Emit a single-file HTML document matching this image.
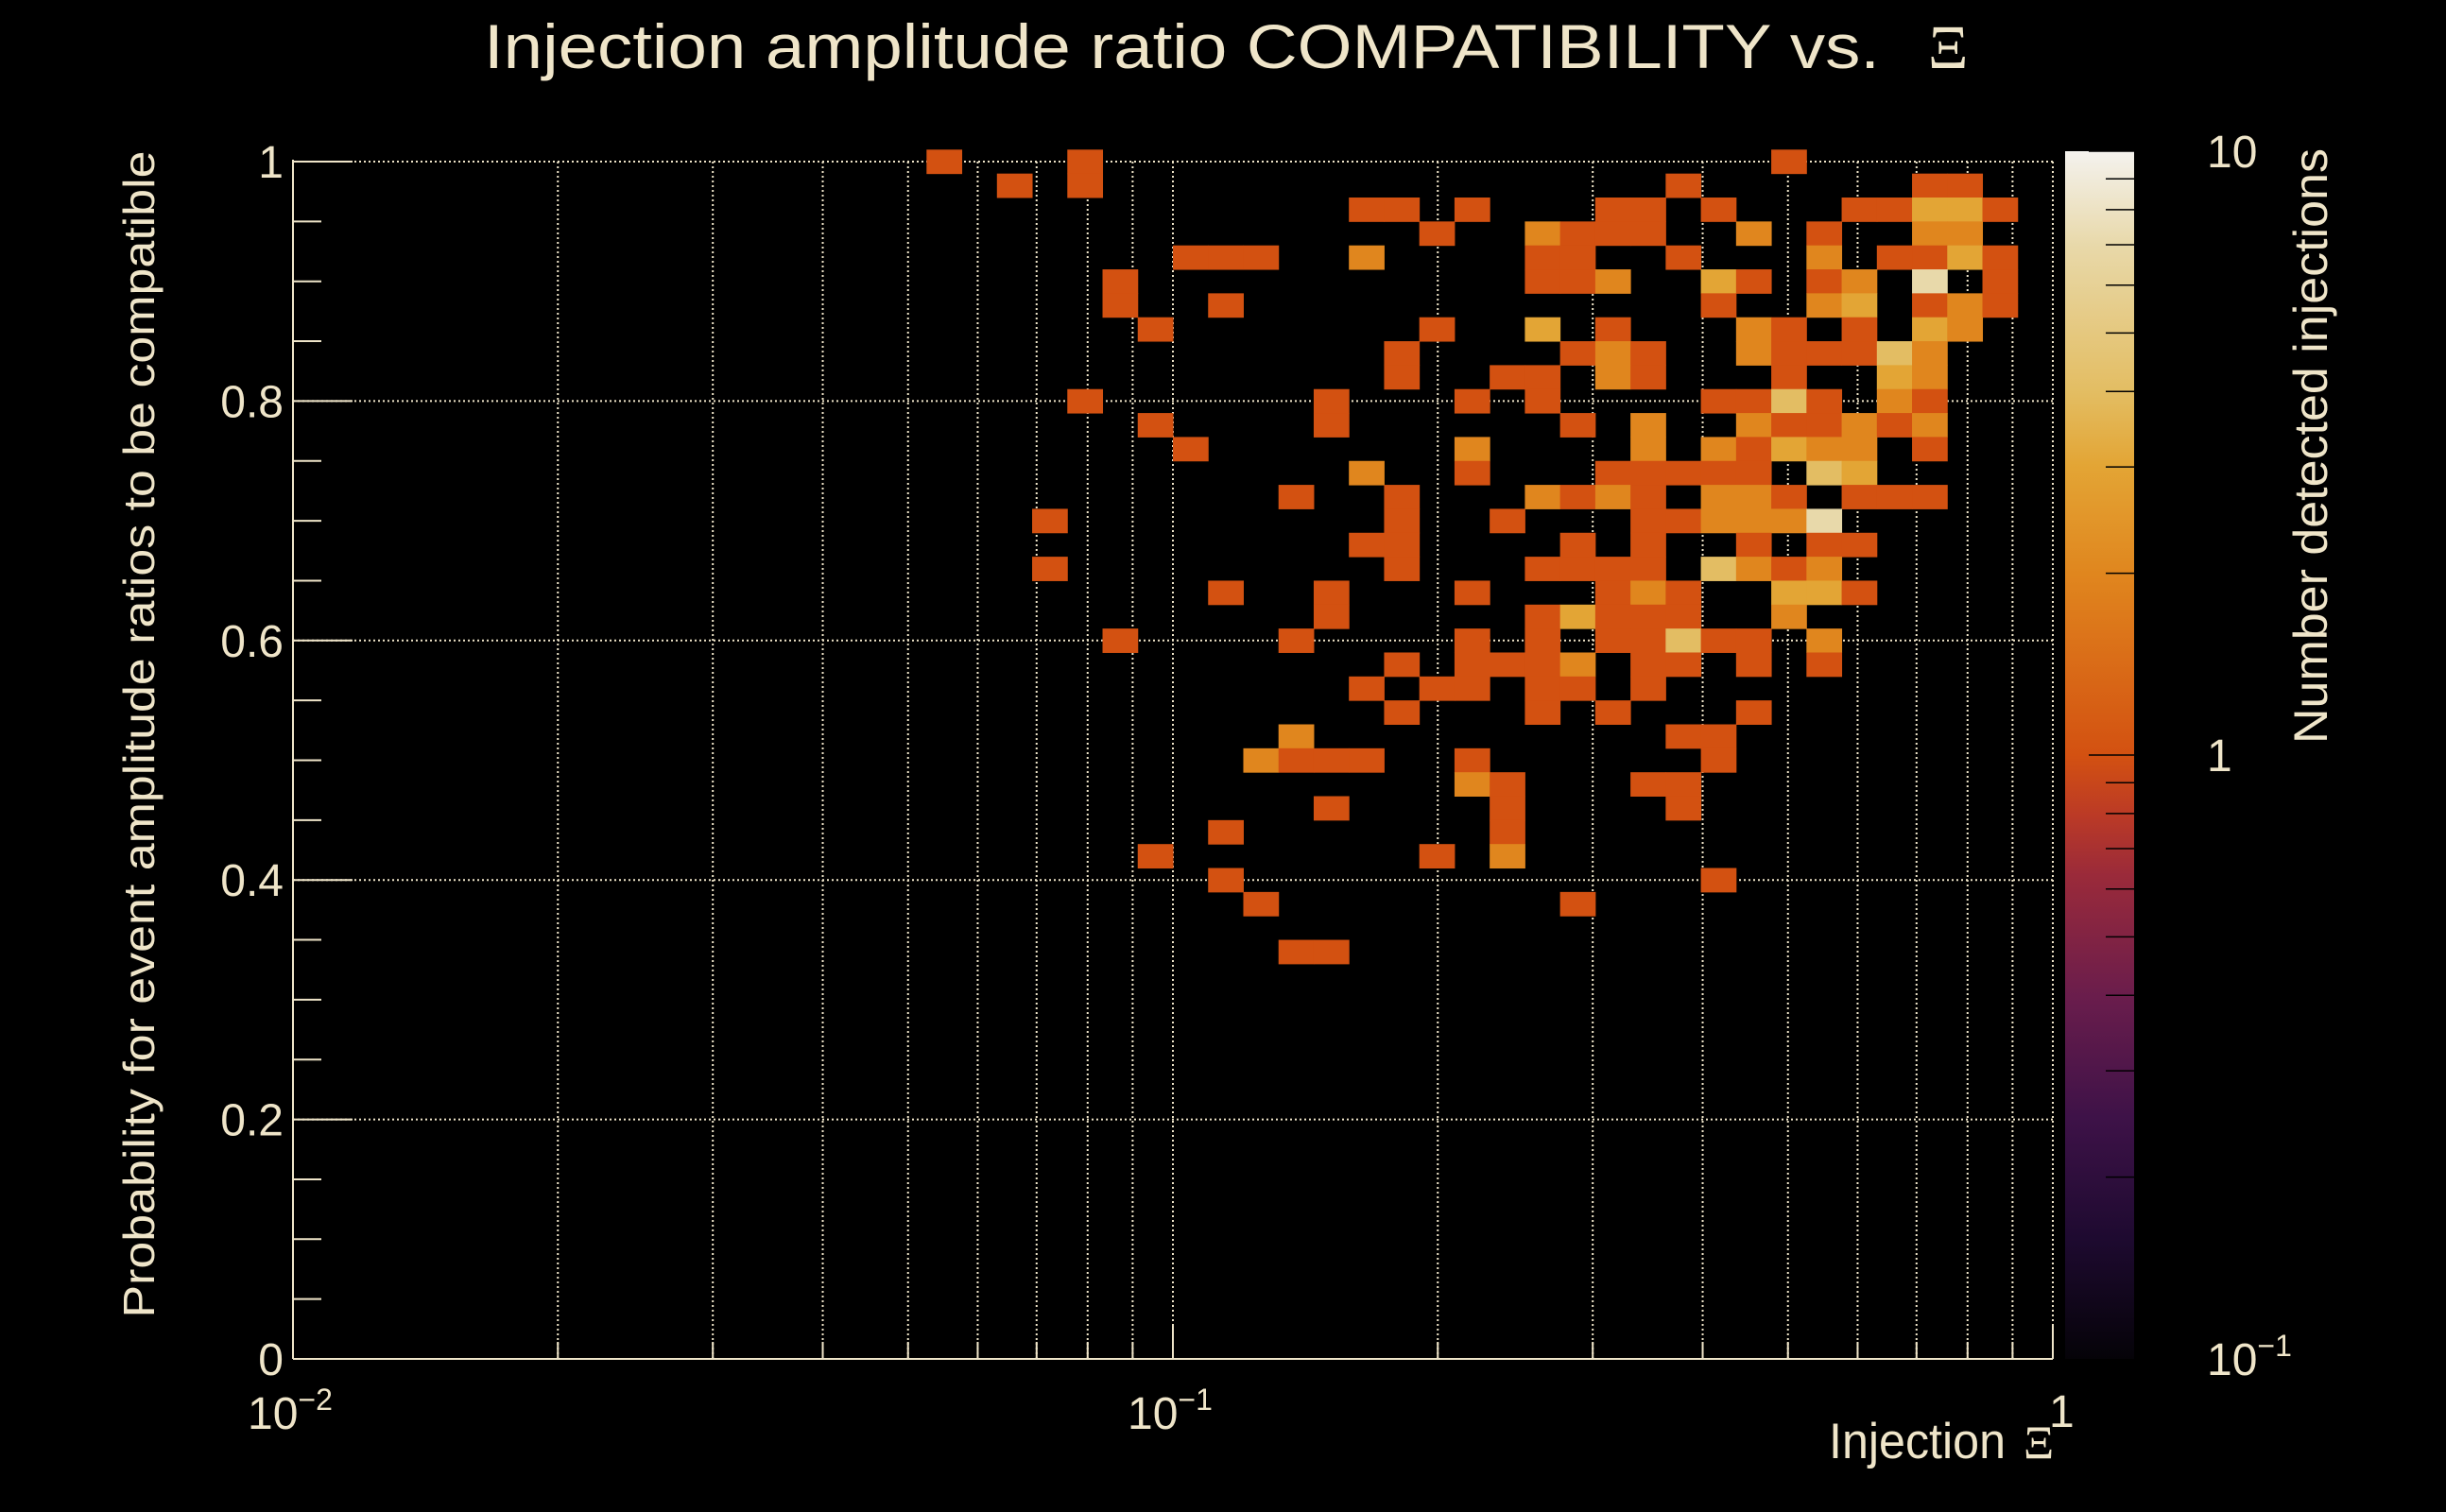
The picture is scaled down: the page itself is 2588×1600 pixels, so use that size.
<!DOCTYPE html>
<html><head><meta charset="utf-8"><style>
html,body{margin:0;padding:0;background:#000;}
svg{display:block;}
text{fill:#efe5c9;font-family:"Liberation Sans",sans-serif;}
.serif{font-family:"Liberation Serif",serif;}
</style></head><body>
<svg id="chart" xmlns="http://www.w3.org/2000/svg" width="2588" height="1600" viewBox="0 0 2588 1600">
<defs>
<linearGradient id="cbgrad" x1="0" y1="1" x2="0" y2="0">
<stop offset="0" stop-color="#050308"/><stop offset="0.1" stop-color="#1e0a30"/>
<stop offset="0.2" stop-color="#3e1248"/><stop offset="0.3" stop-color="#6a1d4c"/>
<stop offset="0.4" stop-color="#9a2a3a"/><stop offset="0.45" stop-color="#bb3a26"/>
<stop offset="0.5" stop-color="#d35111"/><stop offset="0.65" stop-color="#e0861e"/>
<stop offset="0.74" stop-color="#e3a535"/><stop offset="0.8" stop-color="#e3bd62"/>
<stop offset="0.92" stop-color="#e8d8a8"/><stop offset="1" stop-color="#f4f2ee"/>
</linearGradient>
</defs>
<rect x="0" y="0" width="2588" height="1600" fill="#000"/>
<g id="grid"></g>
<g id="cells"></g>
<g id="axes"></g>
<text x="512" y="72" font-size="66" textLength="1477" lengthAdjust="spacingAndGlyphs">Injection amplitude ratio COMPATIBILITY vs.</text>
<text class="serif" x="2040" y="72" font-size="66">Ξ</text>
<text transform="translate(163,777) rotate(-90)" text-anchor="middle" font-size="46" textLength="1235" lengthAdjust="spacingAndGlyphs">Probability for event amplitude ratios to be compatible</text>
<text x="1935" y="1543" font-size="53" textLength="187" lengthAdjust="spacingAndGlyphs">Injection</text>
<text class="serif" x="2141" y="1543" font-size="50">Ξ</text>
<text transform="translate(2462,472) rotate(-90)" text-anchor="middle" font-size="50" textLength="630" lengthAdjust="spacingAndGlyphs">Number detected injections</text>
<rect x="2185" y="160" width="73" height="1278" fill="url(#cbgrad)"/>
<g id="cbaxis"></g>
</svg>
<script>
// ---- data ----
const rowProbs = [1.00,0.98,0.96,0.94,0.92,0.90,0.88,0.86,0.84,0.82,0.80,0.78,0.76,0.74,0.72,0.70,0.68,0.66,0.64,0.62,0.60,0.58,0.56,0.54,0.52,0.50,0.48,0.46,0.44,0.42,0.40,0.38,0.34];
const rowBins = [
[18,22,42],
[20,22,39,46,47],
[30,31,33,37,38,40,44,45,46,47,48],
[32,35,36,37,38,41,43,46,47],
[25,26,27,30,35,36,39,43,45,46,47,48],
[23,35,36,37,40,41,43,44,46,48],
[23,26,40,43,44,46,47,48],
[24,32,35,37,41,42,44,46,47],
[31,36,37,38,41,42,43,44,45,46],
[31,34,35,37,38,42,45,46],
[22,29,33,35,40,41,42,43,45,46],
[24,29,36,38,41,42,43,44,45,46],
[25,33,38,40,41,42,43,44,46],
[30,33,37,38,39,40,41,43,44],
[28,31,35,36,37,38,40,41,42,44,45,46],
[21,31,34,38,39,40,41,42,43],
[30,31,36,38,41,43,44],
[21,31,35,36,37,38,40,41,42,43],
[26,29,33,37,38,39,42,43,44],
[29,35,36,37,38,39,42],
[23,28,33,35,37,38,39,40,41,43],
[31,33,34,35,36,38,39,41,43],
[30,32,33,35,36,38],
[31,35,37,41],
[28,39,40],
[27,28,29,30,33,40],
[33,34,38,39],
[29,34,39],
[26,34],
[24,32,34],
[26,40],
[27,36],
[28,29]
];
const rowCounts = [
[1,1,1],
[1,1,1,1,1],
[1,1,1,1,1,1,1,1,3,3,1],
[1,2,1,1,1,2,1,2,2],
[1,1,1,2,1,1,1,2,1,1,3,1],
[1,1,1,2,3,1,1,2,7,1],
[1,1,1,2,3,1,2,1],
[1,1,3,1,2,1,1,3,2],
[1,1,2,1,2,1,1,1,4,2],
[1,1,1,2,1,1,3,2],
[1,1,1,1,1,1,4,1,2,1],
[1,1,1,2,2,1,1,2,1,2],
[1,2,2,2,1,3,2,2,1],
[2,1,1,1,1,1,1,4,3],
[1,1,2,1,2,1,2,2,1,1,1,1],
[1,1,1,1,1,2,2,2,7],
[1,1,1,1,1,1,1],
[1,1,1,1,1,1,4,2,1,2],
[1,1,1,1,2,1,3,3,1],
[1,1,3,1,1,1,2],
[1,1,1,1,1,1,4,1,1,2],
[1,1,1,1,2,1,1,1,1],
[1,1,1,1,1,1],
[1,1,1,1],
[2,1,1],
[2,1,1,1,1,1],
[2,1,1,1],
[1,1,1],
[1,1],
[1,1,2],
[1,1],
[1,1],
[1,1]
];
const yTickVals = [0,0.2,0.4,0.6,0.8,1];
const yTickLabels = ["0","0.2","0.4","0.6","0.8","1"];
const xDecades = [-2,-1,0];
const cbDecades = [-1,0,1];

// ---- axes ----
const NS="http://www.w3.org/2000/svg";
const X0=310,X1=2172,Y0=1438,Y1=171;
const BIN_DEC=0.04, LOGMIN=-2, LOGMAX=0;
function xScale(v){return X0+(Math.log10(v)-LOGMIN)/(LOGMAX-LOGMIN)*(X1-X0);}
function binLo(b){return Math.pow(10,LOGMIN+b*BIN_DEC);}
function binHi(b){return Math.pow(10,LOGMIN+(b+1)*BIN_DEC);}
function yScale(p){return Y0-p*(Y0-Y1);}
const CB_TOP=160,CB_BOT=1438;
function cbScale(c){return CB_BOT-(Math.log10(c)+1)/2*(CB_BOT-CB_TOP);}
const stops=[[0,[5,3,8]],[0.1,[30,10,48]],[0.2,[62,18,72]],[0.3,[106,29,76]],[0.4,[154,42,58]],[0.45,[187,58,38]],[0.5,[211,81,17]],[0.65,[224,134,30]],[0.74,[227,165,53]],[0.8,[227,189,98]],[0.92,[232,216,168]],[1,[244,242,238]]];
function colorOf(c){
  let t=(Math.log10(c)+1)/2; t=Math.max(0,Math.min(1,t));
  for(let i=1;i<stops.length;i++){ if(t<=stops[i][0]){const a=stops[i-1],b=stops[i];const f=(t-a[0])/(b[0]-a[0]);
    return 'rgb('+a[1].map((v,k)=>Math.round(v+(b[1][k]-v)*f)).join(',')+')';}}
  return 'rgb(244,242,238)';
}
function mk(tag,attrs,parent){const e=document.createElementNS(NS,tag);for(const k in attrs)e.setAttribute(k,attrs[k]);parent.appendChild(e);return e;}
const gGrid=document.getElementById('grid'),gCells=document.getElementById('cells'),gAx=document.getElementById('axes'),gCb=document.getElementById('cbaxis');
const cream='#efe5c9';

// grid
yTickVals.forEach(v=>{ if(v===0)return; const y=yScale(v);
  const l=mk('line',{x1:X0,x2:X1,y1:y,y2:y,stroke:cream,'stroke-width':2,'stroke-dasharray':'2 3'},gGrid);
  
  
});
xDecades.forEach(d=>{ for(let m=1;m<=9;m++){ const v=m*Math.pow(10,d); if(Math.log10(v)>LOGMAX+1e-9)break; if(d===-2&&m===1)continue;
  const x=xScale(v);
  const l=mk('line',{x1:x,x2:x,y1:Y1,y2:Y0,stroke:cream,'stroke-width':2,'stroke-dasharray':'2 3'},gGrid);
  
  
}});

// cells
rowProbs.forEach((p,ri)=>{ rowBins[ri].forEach((b,ci)=>{
  const xa=xScale(binLo(b)),xb=xScale(binHi(b)),ya=yScale(p+0.01),yb=yScale(p-0.01);
  const r=mk('rect',{x:xa,y:ya,width:xb-xa+0.5,height:yb-ya+0.5,fill:colorOf(rowCounts[ri][ci])},gCells);
  
  
});});

// axes lines
const ax1=mk('line',{x1:X0,x2:X0,y1:Y1-2,y2:Y0,stroke:cream,'stroke-width':2},gAx);


const ax2=mk('line',{x1:X0,x2:X1,y1:Y0,y2:Y0,stroke:cream,'stroke-width':2},gAx);


// y ticks
for(let i=0;i<=20;i++){ const v=i*0.05; const y=yScale(v); const major=(i%4===0);
  const t=mk('line',{x1:X0,x2:X0+(major?63:30),y1:y,y2:y,stroke:cream,'stroke-width':2},gAx);
  
  
}
yTickVals.forEach((v,i)=>{ const t=mk('text',{x:300,y:yScale(v)+17,'text-anchor':'end','font-size':48},gAx); t.textContent=yTickLabels[i];
  
  
});
// x ticks
xDecades.forEach(d=>{ for(let m=1;m<=9;m++){ const v=m*Math.pow(10,d); if(Math.log10(v)>LOGMAX+1e-9)break;
  const x=xScale(v); const major=(m===1);
  const t=mk('line',{x1:x,x2:x,y1:Y0,y2:Y0-(major?36:18),stroke:cream,'stroke-width':2},gAx);
  
  
}});
xDecades.forEach(d=>{ const x=xScale(Math.pow(10,d));
  const t=mk('text',{x:d===0?x-4:x-48,y:d===0?1510:1512,'font-size':48},gAx);
  
  
  if(d===0){t.textContent='1';}
  else{ t.textContent='10'; const s=mk('tspan',{dy:-20,'font-size':32},t); s.textContent='\u2212'+(-d); }
});
// colorbar ticks & labels
cbDecades.forEach(d=>{ for(let m=1;m<=9;m++){ const v=m*Math.pow(10,d); if(Math.log10(v)>1+1e-9)break; if(d===-1&&m===1)continue;
  const y=cbScale(v); const major=(m===1);
  const t=mk('line',{x1:major?2210:2228,x2:2258,y1:y,y2:y,stroke:'#000','stroke-width':1.5},gCb);
  
  
}});
cbDecades.forEach(d=>{ const y=cbScale(Math.pow(10,d));
  const t=mk('text',{x:2335,y:y+17,'font-size':48},gCb);
  
  
  if(d===0)t.textContent='1'; else { t.textContent='10'; if(d<0){const s=mk('tspan',{dy:-20,'font-size':32},t); s.textContent='\u2212'+(-d);} }
});
</script>
</body></html>
